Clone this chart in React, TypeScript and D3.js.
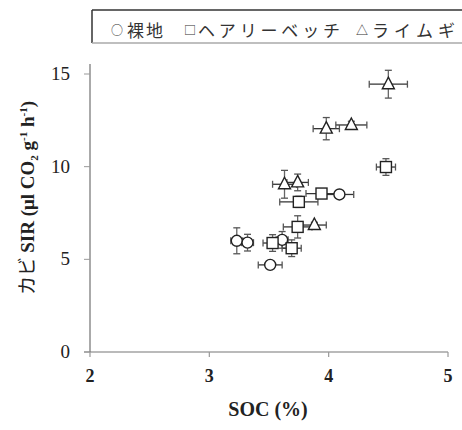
import React, { useEffect, useRef } from 'react';
import * as d3 from 'd3';

// 裸地 (circles)
const bareSoc = [4.09, 3.23, 3.32, 3.61, 3.51];
const bareSir = [8.5, 6.0, 5.9, 6.05, 4.7];
const bareSocErr = [0.12, 0.05, 0.05, 0.05, 0.1];
const bareSirErr = [0.15, 0.7, 0.45, 0.45, 0.15];

// ヘアリーベッチ (squares)
const vetchSoc = [4.48, 3.94, 3.75, 3.74, 3.53, 3.69];
const vetchSir = [9.98, 8.55, 8.1, 6.75, 5.88, 5.6];
const vetchSocErr = [0.08, 0.13, 0.16, 0.12, 0.08, 0.08];
const vetchSirErr = [0.45, 0.15, 0.3, 0.6, 0.45, 0.45];

// ライムギ (triangles)
const ryeSoc = [4.5, 3.98, 4.19, 3.63, 3.74, 3.88];
const ryeSir = [14.45, 12.05, 12.25, 9.05, 9.15, 6.85];
const ryeSocErr = [0.16, 0.11, 0.13, 0.1, 0.09, 0.1];
const ryeSirErr = [0.75, 0.6, 0.2, 0.75, 0.45, 0.15];

const xTicks = [2, 3, 4, 5];
const yTicks = [0, 5, 10, 15];

const serif = 'Liberation Serif';
const jp = 'Noto Sans CJK JP, sans-serif';

export default function App() {
  const svgRef = useRef<SVGSVGElement>(null);

  useEffect(() => {
    const svg = d3.select(svgRef.current);
    svg.selectAll('*').remove();

    const x = d3.scaleLinear().domain([2, 5]).range([90, 448]);
    const y = d3.scaleLinear().domain([0, 15]).range([352, 74]);

    svg.append('rect').attr('width', 462).attr('height', 430).attr('fill', '#fff');

    // legend box
    const lg = svg.append('g');
    lg.append('line').attr('x1', 92).attr('x2', 92).attr('y1', 10).attr('y2', 43)
      .attr('stroke', '#333').attr('stroke-width', 1.5);
    lg.append('line').attr('x1', 92).attr('x2', 470).attr('y1', 10).attr('y2', 10)
      .attr('stroke', '#333').attr('stroke-width', 1.5);
    lg.append('line').attr('x1', 92).attr('x2', 470).attr('y1', 43).attr('y2', 43)
      .attr('stroke', '#aaa').attr('stroke-width', 1.5);

    const legendItems = [
      { t: '○', x: 111, w: 11, fs: 12 },
      { t: '裸地', x: 127, w: 36, fs: 17 },
      { t: '□', x: 184, w: 11, fs: 12 },
      { t: 'ヘアリーベッチ', x: 198, w: 142, fs: 17 },
      { t: '△', x: 356, w: 11, fs: 12 },
      { t: 'ライムギ', x: 372, w: 83, fs: 17 },
    ];
    legendItems.forEach(d => {
      lg.append('text')
        .attr('x', d.x).attr('y', d.fs < 15 ? 35 : 37)
        .attr('textLength', d.w).attr('lengthAdjust', 'spacing')
        .attr('font-family', jp).attr('font-size', d.fs).attr('fill', '#333')
        .text(d.t);
    });

    // axes
    svg.append('line').attr('x1', 90).attr('x2', 90).attr('y1', 64).attr('y2', 352)
      .attr('stroke', '#aaa').attr('stroke-width', 2);
    svg.append('line').attr('x1', 84).attr('x2', 448).attr('y1', 352).attr('y2', 352)
      .attr('stroke', '#777').attr('stroke-width', 1.2);

    yTicks.forEach(t => {
      svg.append('line').attr('x1', 84).attr('x2', 90).attr('y1', y(t)).attr('y2', y(t))
        .attr('stroke', '#999').attr('stroke-width', 1);
      svg.append('text').attr('x', 70).attr('y', y(t) + 6)
        .attr('text-anchor', 'end')
        .style('font-family', serif).attr('font-size', 19).attr('fill', '#222')
        .text(t);
    });
    xTicks.forEach(t => {
      svg.append('line').attr('x1', x(t)).attr('x2', x(t)).attr('y1', 352).attr('y2', 357)
        .attr('stroke', '#999').attr('stroke-width', 1.2);
      svg.append('text').attr('x', x(t)).attr('y', 382)
        .attr('text-anchor', 'middle')
        .style('font-family', serif).attr('font-size', 18).attr('font-weight', 'bold').attr('fill', '#222')
        .text(t);
    });

    svg.append('text').attr('x', 268).attr('y', 416)
      .attr('text-anchor', 'middle')
      .style('font-family', serif).attr('font-size', 20).attr('font-weight', 'bold').attr('fill', '#222')
      .text('SOC (%)');

    const yl = svg.append('text')
      .attr('transform', 'translate(34,198) rotate(-90)')
      .attr('text-anchor', 'middle')
      .style('font-family', serif).attr('font-size', 19).attr('font-weight', 'bold').attr('fill', '#222');
    yl.append('tspan').style('font-family', jp).attr('font-weight', 'normal').text('カビ ');
    yl.append('tspan').text('SIR (μl CO');
    yl.append('tspan').attr('dy', 4).attr('font-size', 11).text('2');
    yl.append('tspan').attr('dy', -4).text(' g');
    yl.append('tspan').attr('dy', -7).attr('font-size', 11).text('-1');
    yl.append('tspan').attr('dy', 7).text(' h');
    yl.append('tspan').attr('dy', -7).attr('font-size', 11).text('-1');
    yl.append('tspan').attr('dy', 7).text(')');

    const series = [
      { shape: 'circle', sx: bareSoc, sy: bareSir, ex: bareSocErr, ey: bareSirErr },
      { shape: 'square', sx: vetchSoc, sy: vetchSir, ex: vetchSocErr, ey: vetchSirErr },
      { shape: 'triangle', sx: ryeSoc, sy: ryeSir, ex: ryeSocErr, ey: ryeSirErr },
    ];

    const eg = svg.append('g');
    const mg = svg.append('g');
    const cap = 3.5;
    series.forEach(s => {
      s.sx.forEach((v, i) => {
        const cx = x(v), cy = y(s.sy[i]);
        const x0 = x(v - s.ex[i]), x1 = x(v + s.ex[i]);
        const y0 = y(s.sy[i] - s.ey[i]), y1 = y(s.sy[i] + s.ey[i]);
        eg.append('line').attr('x1', x0).attr('x2', x1).attr('y1', cy).attr('y2', cy)
          .attr('stroke', '#333').attr('stroke-width', 1.3);
        [x0, x1].forEach(xx => eg.append('line').attr('x1', xx).attr('x2', xx)
          .attr('y1', cy - cap).attr('y2', cy + cap).attr('stroke', '#555').attr('stroke-width', 1.3));
        eg.append('line').attr('x1', cx).attr('x2', cx).attr('y1', y0).attr('y2', y1)
          .attr('stroke', '#666').attr('stroke-width', 1.3);
        [y0, y1].forEach(yy => eg.append('line').attr('x1', cx - cap).attr('x2', cx + cap)
          .attr('y1', yy).attr('y2', yy).attr('stroke', '#555').attr('stroke-width', 1.3));

        if (s.shape === 'circle') {
          mg.append('circle').attr('cx', cx).attr('cy', cy).attr('r', 5.5)
            .attr('fill', '#fff').attr('stroke', '#222').attr('stroke-width', 1.4);
        } else if (s.shape === 'square') {
          mg.append('rect').attr('x', cx - 5.5).attr('y', cy - 5.5).attr('width', 11).attr('height', 11)
            .attr('fill', '#fff').attr('stroke', '#222').attr('stroke-width', 1.4);
        } else {
          mg.append('path')
            .attr('d', `M${cx},${cy - 7}L${cx + 6},${cy + 4.5}L${cx - 6},${cy + 4.5}Z`)
            .attr('fill', '#fff').attr('stroke', '#222').attr('stroke-width', 1.4);
        }
      });
    });
  }, []);

  return (
    <div style={{ position: 'absolute', left: 0, top: 0, width: 462, height: 430 }}>
      <svg ref={svgRef} width={462} height={430} style={{ display: 'block' }} />
    </div>
  );
}
